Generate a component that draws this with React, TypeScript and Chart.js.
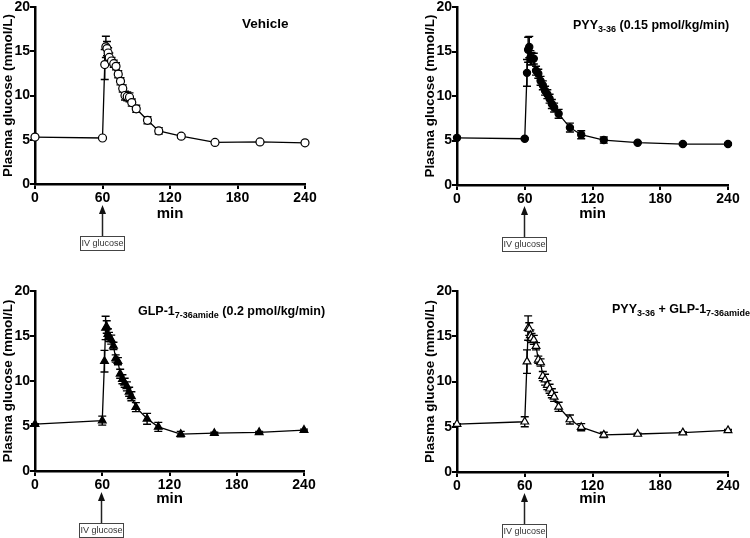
import React, { useEffect, useRef } from 'react';
import { Chart, registerables } from 'chart.js';

Chart.register(...registerables);

// ---- data (min, mmol/L) ----
const timeMin = [0, 60, 62, 63, 64, 65, 66, 68, 70, 72, 74, 76, 78, 80, 82, 84, 86, 90, 100, 110, 130, 160, 200, 240];

const vehicleMean = [5.3, 5.2, 13.5, 15.5, 15.3, 14.8, 14.3, 13.9, 13.6, 13.3, 12.4, 11.6, 10.8, 10.0, 9.9, 9.8, 9.2, 8.5, 7.2, 6.0, 5.4, 4.7, 4.75, 4.65];
const vehicleSem = [0.05, 0.1, 1.7, 1.2, 0.8, 0.6, 0.5, 0.4, 0.4, 0.4, 0.4, 0.4, 0.4, 0.5, 0.5, 0.5, 0.4, 0.4, 0.4, 0.35, 0.2, 0.1, 0.1, 0.1];

const pyyMean = [5.3, 5.2, 12.6, 15.2, 15.5, 14.3, 14.2, 14.2, 12.85, 12.5, 11.7, 11.2, 10.6, 10.2, 9.7, 9.1, 8.7, 8.0, 6.45, 5.65, 5.05, 4.75, 4.6, 4.6];
const pyySem = [0.05, 0.1, 1.5, 1.4, 1.2, 0.8, 0.7, 0.6, 0.5, 0.5, 0.5, 0.5, 0.5, 0.5, 0.5, 0.5, 0.5, 0.5, 0.5, 0.45, 0.35, 0.1, 0.1, 0.1];

const glpMean = [5.2, 5.6, 12.2, 15.9, 16.0, 15.2, 14.9, 14.6, 13.9, 12.5, 12.2, 10.8, 10.2, 9.8, 9.4, 8.8, 8.3, 7.1, 5.8, 4.9, 4.1, 4.2, 4.3, 4.55];
const glpSem = [0.05, 0.5, 1.2, 1.3, 0.7, 0.6, 0.5, 0.5, 0.4, 0.4, 0.4, 0.5, 0.5, 0.5, 0.5, 0.5, 0.5, 0.5, 0.6, 0.5, 0.3, 0.1, 0.1, 0.1];

const comboMean = [5.3, 5.55, 12.2, 15.9, 15.8, 15.1, 14.8, 14.6, 13.9, 12.4, 12.1, 10.6, 10.2, 9.6, 9.2, 8.7, 8.3, 7.2, 5.8, 4.95, 4.1, 4.2, 4.35, 4.6];
const comboSem = [0.05, 0.55, 1.3, 1.35, 0.7, 0.6, 0.5, 0.5, 0.4, 0.4, 0.4, 0.5, 0.6, 0.5, 0.5, 0.5, 0.5, 0.5, 0.5, 0.4, 0.3, 0.1, 0.1, 0.1];

const xTicks = [0, 60, 120, 180, 240];
const yTicks = [0, 5, 10, 15, 20];
const glucoseAt = 60;

const yTitle = 'Plasma glucose (mmol/L)';
const xTitle = 'min';
const markerLabel = 'IV glucose';

type Seg = { text: string; sub?: boolean };

const FONT = '"Liberation Sans", Arial, Helvetica, sans-serif';

interface PanelSpec {
  id: string;
  left: number;
  top: number;
  mean: number[];
  sem: number[];
  pointStyle: 'circle' | 'triangle';
  filled: boolean;
  radius: number;
  title: Seg[];
  titleSize: number;
  titleX: number;
  titleY: number;
  pad: { left: number; right: number; top: number; bottom: number };
  xH: number;
}

const panels: PanelSpec[] = [
  {
    id: 'vehicle', left: 0, top: 0, mean: vehicleMean, sem: vehicleSem,
    pointStyle: 'circle', filled: false, radius: 4,
    title: [{ text: 'Vehicle' }], titleSize: 13.5, titleX: 242, titleY: 24,
    pad: { left: 0, right: 70, top: 0, bottom: 46 }, xH: 39,
  },
  {
    id: 'pyy', left: 375, top: 0, mean: pyyMean, sem: pyySem,
    pointStyle: 'circle', filled: true, radius: 3.6,
    title: [{ text: 'PYY' }, { text: '3-36', sub: true }, { text: ' (0.15 pmol/kg/min)' }], titleSize: 12.5, titleX: 198, titleY: 26,
    pad: { left: 47, right: 22, top: 0, bottom: 46 }, xH: 38,
  },
  {
    id: 'glp', left: 0, top: 269, mean: glpMean, sem: glpSem,
    pointStyle: 'triangle', filled: true, radius: 4.5,
    title: [{ text: 'GLP-1' }, { text: '7-36amide', sub: true }, { text: ' (0.2 pmol/kg/min)' }], titleSize: 12.5, titleX: 138, titleY: 42.5,
    pad: { left: 0, right: 71, top: 22, bottom: 30 }, xH: 37,
  },
  {
    id: 'combo', left: 375, top: 269, mean: comboMean, sem: comboSem,
    pointStyle: 'triangle', filled: false, radius: 4.5,
    title: [{ text: 'PYY' }, { text: '3-36', sub: true }, { text: ' + GLP-1' }, { text: '7-36amide', sub: true }], titleSize: 12.5, titleX: 237, titleY: 41,
    pad: { left: 47, right: 22, top: 22, bottom: 30 }, xH: 36,
  },
];

const errorBarPlugin = {
  id: 'errorBars',
  beforeDatasetsDraw(chart: any) {
    const ctx = chart.ctx;
    const ys = chart.scales.y;
    chart.data.datasets.forEach((ds: any, di: number) => {
      const errs: number[] | undefined = ds.errors;
      if (!errs) return;
      const meta = chart.getDatasetMeta(di);
      ctx.save();
      ctx.strokeStyle = '#000';
      ctx.lineWidth = 1.4;
      meta.data.forEach((pt: any, i: number) => {
        const v = ds.data[i].y;
        const e = errs[i];
        if (!e) return;
        const yT = ys.getPixelForValue(v + e);
        const yB = ys.getPixelForValue(v - e);
        const x = pt.x;
        ctx.beginPath();
        ctx.moveTo(x, yT);
        ctx.lineTo(x, yB);
        ctx.moveTo(x - 4, yT);
        ctx.lineTo(x + 4, yT);
        ctx.moveTo(x - 4, yB);
        ctx.lineTo(x + 4, yB);
        ctx.stroke();
      });
      ctx.restore();
    });
  },
};

const decorPlugin = {
  id: 'panelDecor',
  afterDraw(chart: any, _args: any, opts: any) {
    const ctx = chart.ctx;
    const xs = chart.scales.x;
    const area = chart.chartArea;
    const ax = Math.round(xs.getPixelForValue(opts.arrowAt)) - 0.5;
    const tipY = area.bottom + 21;
    const baseY = area.bottom + 52;
    ctx.save();
    // arrow
    ctx.strokeStyle = '#222';
    ctx.lineWidth = 1.5;
    ctx.beginPath();
    ctx.moveTo(ax, tipY + 6);
    ctx.lineTo(ax, baseY);
    ctx.stroke();
    ctx.fillStyle = '#111';
    ctx.beginPath();
    ctx.moveTo(ax, tipY);
    ctx.lineTo(ax - 3.5, tipY + 9);
    ctx.lineTo(ax + 3.5, tipY + 9);
    ctx.closePath();
    ctx.fill();
    // box
    const bw = 44;
    const bh = 14;
    const bx = Math.round(ax - bw / 2 - 0.5);
    const by = Math.round(baseY);
    ctx.fillStyle = '#fff';
    ctx.fillRect(bx, by, bw, bh);
    ctx.strokeStyle = '#444';
    ctx.lineWidth = 1;
    ctx.strokeRect(bx + 0.5, by + 0.5, bw, bh);
    ctx.fillStyle = '#333';
    ctx.font = `9px ${FONT}`;
    ctx.textAlign = 'center';
    ctx.textBaseline = 'middle';
    ctx.fillText(opts.label, bx + bw / 2 + 0.5, by + bh / 2 + 1);
    // panel title with subscripts
    let x = opts.titleX;
    const y = opts.titleY;
    ctx.textAlign = 'left';
    ctx.textBaseline = 'middle';
    ctx.fillStyle = '#000';
    for (const seg of opts.title as Seg[]) {
      ctx.font = seg.sub ? `bold 9px ${FONT}` : `bold ${opts.titleSize}px ${FONT}`;
      ctx.fillText(seg.text, x, seg.sub ? y + 4 : y);
      x += ctx.measureText(seg.text).width;
    }
    ctx.restore();
  },
};

function Panel({ spec }: { spec: PanelSpec }) {
  const ref = useRef<HTMLCanvasElement>(null);
  useEffect(() => {
    if (!ref.current) return;
    const axisGrid = {
      display: true,
      drawOnChartArea: false,
      drawTicks: true,
      tickLength: 5,
      color: '#000',
      lineWidth: 2,
    };
    const axisBorder = { display: true, color: '#000', width: 2.5 };
    const chart = new Chart(ref.current, {
      type: 'line',
      data: {
        datasets: [
          {
            label: spec.id,
            data: timeMin.map((t, i) => ({ x: t, y: spec.mean[i] })),
            errors: spec.sem,
            borderColor: '#000',
            borderWidth: 1.3,
            tension: 0,
            pointStyle: spec.pointStyle,
            pointRadius: spec.radius,
            pointBackgroundColor: spec.filled ? '#000' : '#fff',
            pointBorderColor: '#000',
            pointBorderWidth: 1.2,
            clip: false,
          } as any,
        ],
      },
      options: {
        animation: false,
        responsive: false,
        devicePixelRatio: 1,
        layout: { padding: spec.pad },
        plugins: {
          legend: { display: false },
          tooltip: { enabled: false },
          panelDecor: {
            arrowAt: glucoseAt,
            label: markerLabel,
            title: spec.title,
            titleSize: spec.titleSize,
            titleX: spec.titleX,
            titleY: spec.titleY,
          },
        } as any,
        scales: {
          x: {
            type: 'linear',
            min: xTicks[0],
            max: xTicks[xTicks.length - 1],
            afterFit: (s: any) => { s.height = spec.xH; },
            afterBuildTicks: (s: any) => { s.ticks = xTicks.map((v) => ({ value: v })); },
            ticks: {
              color: '#000',
              font: { family: FONT, size: 14, weight: 'bold' },
              padding: 1,
              maxRotation: 0,
              autoSkip: false,
            },
            grid: axisGrid,
            border: axisBorder,
            title: {
              display: true,
              text: xTitle,
              color: '#000',
              font: { family: FONT, size: 15, weight: 'bold' },
              padding: 0,
            },
          },
          y: {
            type: 'linear',
            min: yTicks[0],
            max: yTicks[yTicks.length - 1],
            afterFit: (s: any) => { s.width = 35; },
            afterBuildTicks: (s: any) => { s.ticks = yTicks.map((v) => ({ value: v })); },
            ticks: {
              color: '#000',
              font: { family: FONT, size: 14, weight: 'bold', lineHeight: 1 },
              padding: 0,
            },
            grid: axisGrid,
            border: axisBorder,
            title: {
              display: true,
              text: yTitle,
              color: '#000',
              font: { family: FONT, size: 13.5, weight: 'bold' },
              padding: 0,
            },
          },
        } as any,
      },
      plugins: [errorBarPlugin, decorPlugin],
    } as any);
    return () => chart.destroy();
  }, [spec]);
  return (
    <canvas
      ref={ref}
      width={375}
      height={269}
      style={{ position: 'absolute', left: spec.left, top: spec.top, width: 375, height: 269, display: 'block' }}
    />
  );
}

export default function App() {
  return (
    <div style={{ position: 'absolute', left: 0, top: 0, width: 750, height: 538, background: '#fff', overflow: 'hidden' }}>
      {panels.map((p) => (
        <Panel key={p.id} spec={p} />
      ))}
    </div>
  );
}
